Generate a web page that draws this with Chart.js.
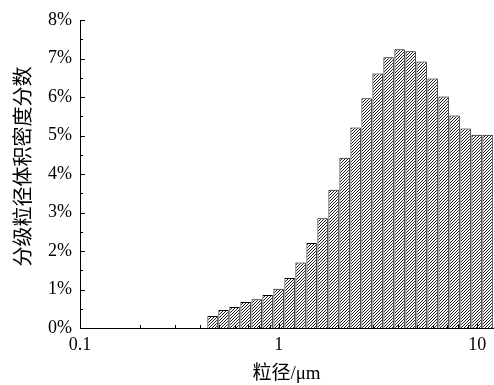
<!DOCTYPE html>
<html>
<head>
<meta charset="utf-8">
<script src="https://cdn.jsdelivr.net/npm/chart.js@4/dist/chart.umd.min.js"></script>
<style>
  html, body { margin: 0; padding: 0; background: #fff; }
  #wrap { width: 494px; height: 385px; }
</style>
</head>
<body>
<div id="wrap"><canvas id="c" width="494" height="385"></canvas></div>
<script>
// Particle size bin centres (µm)
const particleSizes = [0.465, 0.528, 0.600, 0.682, 0.775, 0.880, 1.000, 1.136, 1.290, 1.466,
                       1.665, 1.891, 2.149, 2.441, 2.773, 3.150, 3.578, 4.065, 4.618, 5.246,
                       5.959, 6.770, 7.690, 8.736, 9.924, 11.27];
// Volume density fraction (%) of each bin
const volumeFractions = [0.31, 0.47, 0.545, 0.675, 0.75, 0.86, 1.02, 1.30, 1.70, 2.21,
                         2.85, 3.59, 4.42, 5.21, 5.97, 6.61, 7.03, 7.24, 7.19, 6.92,
                         6.48, 6.01, 5.52, 5.18, 5.02, 5.02];
const yTickValues = [0, 1, 2, 3, 4, 5, 6, 7, 8];
const xTickLabels = [0.1, 1, 10];
const xTitle = '粒径/μm';
const yTitle = '   分级粒径体积密度分数';

const FONT = "'Liberation Serif', 'Times New Roman', 'Noto Sans CJK SC', serif";

function makeHatch() {
  const n = 3;
  const c = document.createElement('canvas');
  c.width = n; c.height = n;
  const g = c.getContext('2d');
  g.fillStyle = '#fff';
  g.fillRect(0, 0, n, n);
  g.strokeStyle = '#000';
  g.lineWidth = 0.9;
  g.beginPath();
  g.moveTo(0, n); g.lineTo(n, 0);
  g.moveTo(-1, 1); g.lineTo(1, -1);
  g.moveTo(n - 1, n + 1); g.lineTo(n + 1, n - 1);
  g.stroke();
  return g.createPattern(c, 'repeat');
}

const innerTicks = {
  id: 'innerTicks',
  afterDatasetsDraw(chart) {
    const ctx = chart.ctx;
    const xs = chart.scales.x, ys = chart.scales.y;
    const area = chart.chartArea;
    ctx.save();
    ctx.strokeStyle = '#000';
    ctx.lineWidth = 1;
    ctx.beginPath();
    for (let v = 0; v <= 8.001; v += 0.5) {
      const y = Math.round(ys.getPixelForValue(v)) + 0.5;
      const len = (Math.abs(v - Math.round(v)) < 1e-6) ? 5 : 3;
      ctx.moveTo(area.left, y);
      ctx.lineTo(area.left + len, y);
    }
    for (let d = 0.1; d <= 10.0001; d *= 10) {
      for (let m = 1; m <= 9; m++) {
        const v = d * m;
        if (v < 0.1 - 1e-9 || v > 12) continue;
        const x = Math.round(xs.getPixelForValue(v)) + 0.5;
        const len = m === 1 ? 5 : 3;
        ctx.moveTo(x, area.bottom);
        ctx.lineTo(x, area.bottom - len);
      }
    }
    ctx.stroke();
    ctx.restore();
  }
};

new Chart(document.getElementById('c'), {
  type: 'bar',
  data: {
    datasets: [{
      data: particleSizes.map((s, i) => ({ x: s, y: volumeFractions[i] })),
      backgroundColor: makeHatch(),
      borderColor: '#000',
      borderWidth: 1,
      barPercentage: 0.95,
      categoryPercentage: 1.0
    }]
  },
  options: {
    responsive: false,
    animation: false,
    events: [],
    layout: { padding: { top: 20, right: 1, left: 0, bottom: 0 } },
    plugins: { legend: { display: false }, tooltip: { enabled: false } },
    scales: {
      x: {
        type: 'logarithmic',
        min: 0.1,
        max: 12,
        offset: false,
        grid: { display: false, drawTicks: false },
        border: { display: true, color: '#000', width: 1 },
        afterBuildTicks(scale) { scale.ticks = xTickLabels.map(v => ({ value: v })); },
        afterFit(scale) { scale.height = 57; },
        ticks: {
          autoSkip: false,
          maxRotation: 0,
          padding: 6,
          color: '#000',
          font: { family: FONT, size: 18 },
          callback: (v) => String(v)
        },
        title: {
          display: true,
          text: xTitle,
          color: '#000',
          font: { family: FONT, size: 19, lineHeight: 1.2 },
          padding: { top: 0, bottom: 0 }
        }
      },
      y: {
        min: 0,
        max: 8,
        grid: { display: false, drawTicks: false },
        border: { display: true, color: '#000', width: 1 },
        afterBuildTicks(scale) { scale.ticks = yTickValues.map(v => ({ value: v })); },
        afterFit(scale) { scale.width = 80; },
        ticks: {
          padding: 8,
          color: '#000',
          font: { family: FONT, size: 18 },
          callback: (v) => v + '%'
        },
        title: {
          display: true,
          text: yTitle,
          color: '#000',
          font: { family: FONT, size: 20, lineHeight: 1.2 },
          padding: { top: 13, bottom: 0 }
        }
      }
    }
  },
  plugins: [innerTicks]
});
</script>
</body>
</html>
